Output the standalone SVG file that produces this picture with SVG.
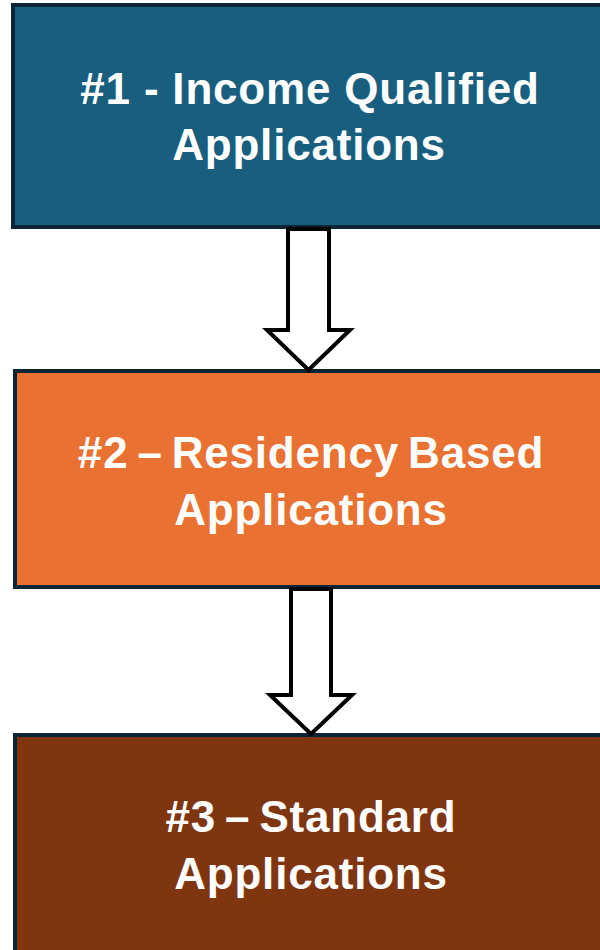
<svg xmlns="http://www.w3.org/2000/svg" width="600" height="950" viewBox="0 0 600 950">
<style>
.box{stroke:#0B2534;stroke-width:4}
.t{font-family:"Liberation Sans",Arial,sans-serif;font-weight:bold;font-size:44px;fill:#FFFFFF;text-anchor:middle;letter-spacing:0.8px}
.tight{word-spacing:-4px}
.arr{fill:#FFFFFF;stroke:#000000;stroke-width:4;stroke-linejoin:miter}
</style>
<rect width="600" height="950" fill="#FFFFFF"/>
<g id="node1">
<rect class="box" x="13" y="5" width="600" height="222" fill="#175E7F"/>
<text class="t" x="310" y="104">#1 - Income Qualified</text>
<text class="t" x="309" y="160">Applications</text>
</g>
<g id="node2">
<rect class="box" x="15" y="371" width="600" height="216" fill="#E97132"/>
<text class="t tight" x="311" y="468">#2 – Residency Based</text>
<text class="t" x="311" y="525">Applications</text>
</g>
<g id="node3">
<rect class="box" x="15" y="735" width="600" height="230" fill="#803511"/>
<text class="t tight" x="311" y="832">#3 – Standard</text>
<text class="t" x="311" y="889">Applications</text>
</g>
<g id="connectors">
<path class="arr" d="M288,229 L329,229 L329,330 L350,330 L308.5,370 L267,330 L288,330 Z"/>
<path class="arr" d="M291,589 L331,589 L331,695 L352,695 L311,734 L270,695 L291,695 Z"/>
</g>
</svg>
